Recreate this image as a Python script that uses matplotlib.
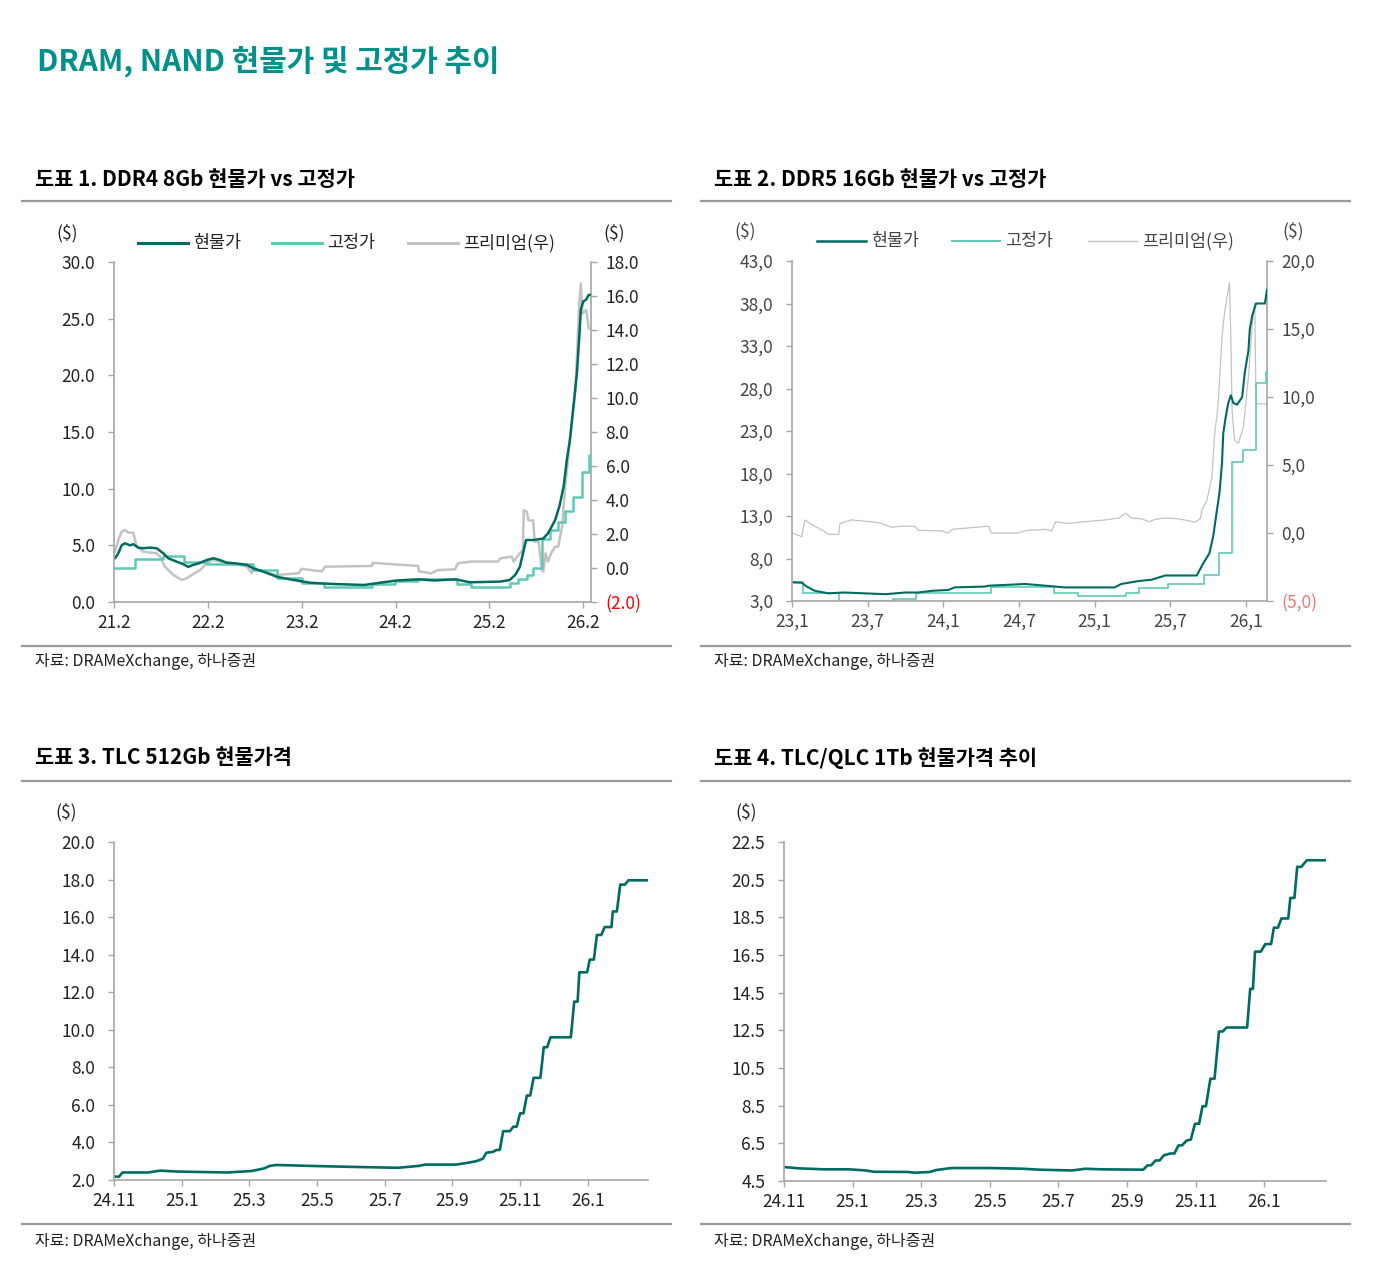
import matplotlib
matplotlib.use("Agg")
import matplotlib.pyplot as plt
from matplotlib.lines import Line2D

plt.rcParams['font.family'] = ['Noto Sans CJK KR', 'DejaVu Sans']

# ---- data (x = months since first tick) ----
# chart 1 : DDR4 8Gb, months since 21.2
ddr4_spot_m = [0, 0.13, 0.55, 0.98, 1.4, 2.05, 2.47, 3.1, 3.75, 4.6, 5.46, 6.3, 6.94, 8.0, 8.66,
               9.5, 10.1, 10.8, 11.85, 12.7, 13.55, 14.4, 15.7, 17.0, 17.8, 19.1, 20.8, 22.5, 24.2,
               25.1, 27.7, 32, 34, 36.2, 38.9, 41, 43.7, 45.5, 49.4, 50.6, 51.3, 51.9, 52.3, 52.7,
               53.6, 54.9, 55.5, 56.4, 57.0, 57.5, 57.9, 58.3, 58.7, 59.2, 59.5, 59.7, 60.0, 60.4,
               60.7, 61.0]
ddr4_spot = [3.9, 3.86, 4.3, 5.0, 5.18, 5.0, 5.1, 4.8, 4.74, 4.8, 4.74, 4.3, 3.86, 3.56, 3.4,
             3.1, 3.27, 3.4, 3.7, 3.86, 3.7, 3.47, 3.4, 3.27, 2.97, 2.68, 2.23, 2.0, 1.8,
             1.7, 1.6, 1.5, 1.7, 1.9, 2.0, 1.9, 2.0, 1.74, 1.8, 1.94, 2.38, 3.1, 4.3, 5.47,
             5.47, 5.6, 6.06, 7.2, 8.56, 10.2, 12.5, 14.3, 16.9, 20.2, 23.4, 25.8, 26.5, 26.7,
             27.1, 27.1]
ddr4_fixed_m = [0, 2.7, 6.3, 8.9, 11.9, 17.8, 20.8, 24, 26.8, 33, 35.9, 38.9, 43.8, 45.7, 50.6,
                51.7, 52.8, 53.6, 54.7, 55.8, 56.8, 57.7, 58.7, 59.8, 60.7, 61.0]
ddr4_fixed = [3.0, 3.8, 4.1, 3.55, 3.35, 2.8, 2.1, 1.7, 1.3, 1.6, 1.85, 2.0, 1.6, 1.3, 1.65,
              2.03, 2.38, 2.97, 5.6, 6.35, 7.1, 8.0, 9.3, 11.5, 13.0, 13.0]
ddr4_prem_m = [0.13, 0.55, 0.98, 1.4, 1.83, 2.47, 2.9, 3.75, 5.46, 5.9, 6.5, 7.6, 8.66, 9.3, 9.94,
               11.0, 11.85, 12.7, 13.55, 14.8, 16.1, 17.0, 17.6, 17.8, 18.45, 20.8, 23.6, 24.0,
               26.6, 27.0, 33.0, 33.1, 38.9, 39.0,
               40.6, 41.4, 43.6, 44.0, 45.7, 49.1, 49.4, 50.9, 51.1, 51.7, 52.3, 52.4, 52.8, 53.0,
               53.6, 53.8, 54.3, 54.7, 54.9, 55.2, 55.5, 55.9, 56.4, 56.8, 57.3, 57.7, 58.1, 58.3,
               58.5, 59.0, 59.2, 59.5, 59.7, 59.9, 60.4, 60.7]
ddr4_prem = [0.96, 1.65, 2.14, 2.24, 2.08, 2.08, 1.25, 0.96, 0.86, 0.67, 0.08, -0.41, -0.7, -0.6, -0.41,
             -0.12, 0.28, 0.47, 0.37, 0.31, 0.18, 0.08, -0.31, 0.08, -0.12, -0.41, -0.31, -0.05,
             -0.2, 0.08, 0.12, 0.3, 0.12, -0.2,
             -0.31, -0.12, -0.08, 0.28, 0.38, 0.38, 0.57, 0.67, 0.37, 0.76, 1.06, 3.4, 3.3, 2.8,
             2.8, 1.55, 1.55, -0.12, -0.22, 0.86, 0.37, 0.86, 1.25, 1.25, 2.43, 4.78, 6.55, 7.53,
             8.3, 10.47, 12.43, 15.57, 16.74, 14.98, 15.18, 14.1]
ddr4_ticks = ['21.2', '22.2', '23.2', '24.2', '25.2', '26.2']

# chart 2 : DDR5 16Gb, months since 23.1
ddr5_spot_m = [0, 0.77, 1.17, 1.8, 2.9, 4.1, 5.8, 7.4, 9.0, 10.0, 11.1, 12.4, 12.9, 15.3, 15.6,
               18.5, 20.1, 21.6, 25.6, 26.1, 27.5, 28.5, 29.6, 32.1, 32.6, 33.1, 33.4, 33.7, 33.9,
               34.1, 34.2, 34.4, 34.6, 34.8, 35.0, 35.3, 35.7, 35.9, 36.2, 36.3, 36.5, 36.8, 37.5, 37.67]
ddr5_spot = [5.2, 5.15, 4.7, 4.2, 3.9, 4.0, 3.9, 3.8, 4.0, 4.0, 4.2, 4.3, 4.6, 4.7, 4.8,
             5.0, 4.8, 4.6, 4.6, 5.0, 5.35, 5.5, 6.0, 6.0, 7.4, 8.6, 10.6, 13.7, 15.7,
             19.2, 22.7, 24.7, 26.3, 27.2, 26.3, 26.1, 27.0, 29.8, 32.5, 34.9, 36.6, 38.0, 38.0, 39.6]
ddr5_fixed_m = [0, 0.85, 3.7, 8.0, 9.8, 15.8, 20.8, 22.7, 26.5, 27.5, 29.8, 32.7, 33.9, 34.9,
                35.8, 36.8, 37.6, 37.67]
ddr5_fixed = [5.2, 3.9, 3.0, 3.2, 3.9, 4.7, 3.9, 3.6, 4.0, 4.5, 5.0, 6.1, 8.6, 19.3,
              20.8, 28.6, 30.0, 30.0]
ddr5_prem_m = [0, 0.77, 1.03, 1.43, 2.6, 2.9, 3.7, 3.8, 4.7, 6.3, 7.1, 7.9, 8.7, 9.75, 10.0,
               11.9, 12.4, 12.7, 15.6, 15.8, 17.9, 18.7, 20.1, 20.6, 20.9, 21.9, 23.2, 24.8, 25.9,
               26.5, 26.9, 27.7, 28.3, 28.8, 29.6, 30.6, 32.0, 32.4, 32.5, 32.9, 33.3, 33.5, 33.8,
               34.1, 34.3, 34.6, 34.7, 34.8, 34.9, 35.1, 35.4, 35.8, 36.2, 36.5, 36.7, 36.8, 37.67]
ddr5_prem = [0.0, -0.27, 0.96, 0.7, 0.1, -0.1, -0.1, 0.7, 0.96, 0.83, 0.7, 0.42, 0.5, 0.5, 0.2,
             0.15, 0.0, 0.27, 0.5, 0.0, 0.0, 0.2, 0.27, 0.15, 0.83, 0.7, 0.83, 0.96, 1.1,
             1.45, 1.1, 1.05, 0.83, 1.0, 1.1, 1.05, 0.8, 1.08, 1.7, 2.4, 4.1, 7.1, 9.5,
             14.4, 16.2, 17.9, 18.4, 14.4, 9.0, 6.8, 6.6, 7.8, 11.5, 15.4, 16.9, 9.5, 9.5]
ddr5_ticks = ['23,1', '23,7', '24,1', '24,7', '25,1', '25,7', '26,1']

# chart 3 : TLC 512Gb, months since 24.11
tlc_m = [0, 0.15, 0.25, 1.0, 1.37, 1.86, 3.33, 4.07, 4.44, 4.6, 4.8, 5.8, 7.0, 8.4, 9.0, 9.2, 10.1,
         10.4, 10.7, 10.9, 11.0, 11.2, 11.3, 11.4, 11.5, 11.7, 11.8, 11.9, 12.0, 12.1, 12.2, 12.3,
         12.4, 12.6, 12.7, 12.8, 12.9, 13.5, 13.6, 13.7, 13.75, 13.98, 14.06, 14.18, 14.27, 14.4,
         14.5, 14.7, 14.74, 14.86, 14.96, 15.1, 15.2, 15.78]
tlc_spot = [2.18, 2.18, 2.4, 2.4, 2.5, 2.45, 2.4, 2.48, 2.62, 2.75, 2.8, 2.75, 2.7, 2.65, 2.75, 2.82, 2.82,
            2.9, 3.0, 3.13, 3.45, 3.5, 3.6, 3.6, 4.6, 4.6, 4.84, 4.84, 5.55, 5.55, 6.5, 6.5,
            7.44, 7.44, 9.07, 9.07, 9.6, 9.6, 11.5, 11.5, 13.06, 13.06, 13.74, 13.74, 15.05, 15.05,
            15.47, 15.47, 16.3, 16.3, 17.73, 17.73, 17.96, 17.96]

# chart 4 : TLC/QLC 1Tb, months since 24.11
qlc_m = [0, 0.45, 1.17, 1.9, 2.38, 2.62, 3.59, 3.83, 4.25, 4.43, 4.8, 4.9, 6.0, 6.97, 7.45, 8.4, 8.78,
         9.26, 10.47, 10.6, 10.7, 10.83, 10.95, 11.07, 11.26, 11.38, 11.5, 11.6, 11.74, 11.86, 11.98,
         12.1, 12.2, 12.3, 12.43, 12.55, 12.68, 12.79, 12.9, 13.5, 13.59, 13.67, 13.73, 13.9, 14.03,
         14.2, 14.28, 14.4, 14.5, 14.7, 14.76, 14.88, 14.96, 15.08, 15.24, 15.8]
qlc_spot = [5.24, 5.17, 5.12, 5.12, 5.06, 4.99, 4.98, 4.94, 4.98, 5.08, 5.17, 5.19, 5.19, 5.15, 5.1, 5.06, 5.15,
            5.12, 5.1, 5.33, 5.33, 5.59, 5.59, 5.86, 5.96, 5.96, 6.39, 6.39, 6.65, 6.7, 7.54,
            7.54, 8.47, 8.47, 9.93, 9.93, 12.44, 12.44, 12.65, 12.65, 14.7, 14.7, 16.68, 16.68, 17.08,
            17.08, 17.95, 17.95, 18.44, 18.44, 19.53, 19.53, 21.18, 21.18, 21.53, 21.53]
nand_ticks = ['24.11', '25.1', '25.3', '25.5', '25.7', '25.9', '25.11', '26.1']

# ---- styling ----
W, H = 1399, 1275
SPOT = '#006b5f'
FIXED = '#5fc9b6'
PREM = '#c3c3c3'
TXT = '#222222'
SPINE = '#a6a6a6'
FS = 12.5

fig = plt.figure(figsize=(W / 100, H / 100), dpi=100)


def axes_px(l, t, r, b):
    return fig.add_axes([l / W, 1 - b / H, (r - l) / W, (b - t) / H])


def text_px(x, y, s, **kw):
    fig.text(x / W, 1 - y / H, s, **kw)


def line_px(x0, x1, y, **kw):
    fig.add_artist(Line2D([x0 / W, x1 / W], [1 - y / H, 1 - y / H], transform=fig.transFigure, **kw))


def style(ax, color=TXT, right=False):
    for s in ['top', 'right', 'left', 'bottom']:
        ax.spines[s].set_visible(False)
    ax.spines['left'].set_visible(not right)
    ax.spines['bottom'].set_visible(not right)
    if right:
        ax.spines['right'].set_visible(True)
        ax.spines['right'].set_color(SPINE)
        ax.spines['right'].set_linewidth(1.2)
    for s in ['left', 'bottom']:
        ax.spines[s].set_color(SPINE)
        ax.spines[s].set_linewidth(1.2)
    ax.tick_params(axis='both', colors=SPINE, labelcolor=color, labelsize=FS, length=4.5, width=1.0)
    ax.tick_params(axis='y', pad=9)
    ax.tick_params(axis='x', pad=4)


def legend_items(items, y, color=TXT):
    for x0, x1, c, lw, lab in items:
        line_px(x0, x1, y, color=c, lw=lw)
        text_px(x1 + 5, y, lab, fontsize=FS, color=color, va='center', ha='left')


# header
text_px(37, 61, 'DRAM, NAND 현물가 및 고정가 추이', fontsize=21.5, fontweight='bold', color='#00918a', va='center')

for x0, x1 in [(22, 671), (701, 1350)]:
    for y in [201, 646, 781, 1224]:
        line_px(x0, x1, y, color='#9a9a9a', lw=1.6)

SUB = dict(fontsize=15, fontweight='bold', color='black', va='center')
text_px(35, 179, '도표 1. DDR4 8Gb 현물가 vs 고정가', **SUB)
text_px(714, 179, '도표 2. DDR5 16Gb 현물가 vs 고정가', **SUB)
text_px(35, 758, '도표 3. TLC 512Gb 현물가격', **SUB)
text_px(714, 758, '도표 4. TLC/QLC 1Tb 현물가격 추이', **SUB)
for x, y in [(35, 662), (714, 662), (35, 1242), (714, 1242)]:
    text_px(x, y, '자료: DRAMeXchange, 하나증권', fontsize=11.5, color=TXT, va='center')

# ---- chart 1 ----
ax1 = axes_px(114, 262, 591, 602)
ax1r = ax1.twinx()
ax1.set_zorder(ax1r.get_zorder() + 1)
ax1.patch.set_visible(False)
ax1r.plot(ddr4_prem_m, ddr4_prem, color=PREM, lw=1.8)
ax1.plot(ddr4_fixed_m, ddr4_fixed, color=FIXED, lw=1.8, drawstyle='steps-post')
ax1.plot(ddr4_spot_m, ddr4_spot, color=SPOT, lw=1.8)
ax1.set_xlim(0, 61)
ax1.set_ylim(0, 30)
ax1r.set_ylim(-2, 18)
style(ax1)
style(ax1r, right=True)
ax1r.tick_params(axis='y', pad=6)
ax1.set_xticks(range(0, 61, 12))
ax1.set_xticklabels(ddr4_ticks)
ax1.set_yticks(range(0, 31, 5))
ax1.set_yticklabels(['%.1f' % v for v in range(0, 31, 5)])
r1 = list(range(-2, 19, 2))
ax1r.set_yticks(r1)
ax1r.set_yticklabels(['(%.1f)' % -v if v < 0 else '%.1f' % v for v in r1])
ax1r.get_yticklabels()[0].set_color('red')
text_px(67, 233, '($)', fontsize=FS, color=TXT, ha='center', va='center')
text_px(614, 233, '($)', fontsize=FS, color=TXT, ha='center', va='center')
legend_items([(138, 188, SPOT, 2.2, '현물가'), (272, 322, FIXED, 2.2, '고정가'),
              (408, 458, PREM, 2.2, '프리미엄(우)')], 243)

# ---- chart 2 ----
C2 = '#444444'
ax2 = axes_px(792, 261, 1267, 601)
ax2r = ax2.twinx()
ax2.set_zorder(ax2r.get_zorder() + 1)
ax2.patch.set_visible(False)
ax2r.plot(ddr5_prem_m, ddr5_prem, color=PREM, lw=0.9)
ax2.plot(ddr5_fixed_m, ddr5_fixed, color=FIXED, lw=1.2, drawstyle='steps-post')
ax2.plot(ddr5_spot_m, ddr5_spot, color=SPOT, lw=1.5)
ax2.set_xlim(0, 37.67)
ax2.set_ylim(3, 43)
ax2r.set_ylim(-5, 20)
style(ax2, color=C2)
style(ax2r, color=C2, right=True)
ax2r.tick_params(axis='y', pad=6)
ax2.set_xticks(range(0, 37, 6))
ax2.set_xticklabels(ddr5_ticks)
l2 = list(range(3, 44, 5))
ax2.set_yticks(l2)
ax2.set_yticklabels([('%.1f' % v).replace('.', ',') for v in l2])
r2 = list(range(-5, 21, 5))
ax2r.set_yticks(r2)
ax2r.set_yticklabels([('(%.1f)' % -v if v < 0 else '%.1f' % v).replace('.', ',') for v in r2])
ax2r.get_yticklabels()[0].set_color('#ee7777')
text_px(745, 231, '($)', fontsize=FS, color=C2, ha='center', va='center')
text_px(1293, 231, '($)', fontsize=FS, color=C2, ha='center', va='center')
legend_items([(817, 866, SPOT, 1.8, '현물가'), (952, 1000, FIXED, 1.4, '고정가'),
              (1088, 1137, PREM, 1.0, '프리미엄(우)')], 241, color=C2)

# ---- chart 3 ----
ax3 = axes_px(114, 842, 648, 1180)
ax3.plot(tlc_m, tlc_spot, color=SPOT, lw=1.9)
ax3.set_xlim(0, 15.78)
ax3.set_ylim(2, 20)
style(ax3)
ax3.set_xticks(range(0, 15, 2))
ax3.set_xticklabels(nand_ticks)
ax3.set_yticks(range(2, 21, 2))
ax3.set_yticklabels(['%.1f' % v for v in range(2, 21, 2)])
text_px(66, 812, '($)', fontsize=FS, color=TXT, ha='center', va='center')

# ---- chart 4 ----
ax4 = axes_px(784, 842, 1326, 1181)
ax4.plot(qlc_m, qlc_spot, color=SPOT, lw=1.9)
ax4.set_xlim(0, 15.8)
ax4.set_ylim(4.5, 22.5)
style(ax4)
ax4.set_xticks(range(0, 15, 2))
ax4.set_xticklabels(nand_ticks)
y4 = [4.5 + 2 * i for i in range(10)]
ax4.set_yticks(y4)
ax4.set_yticklabels(['%.1f' % v for v in y4])
text_px(746, 812, '($)', fontsize=FS, color=TXT, ha='center', va='center')

fig.savefig('out.png', dpi=100)
